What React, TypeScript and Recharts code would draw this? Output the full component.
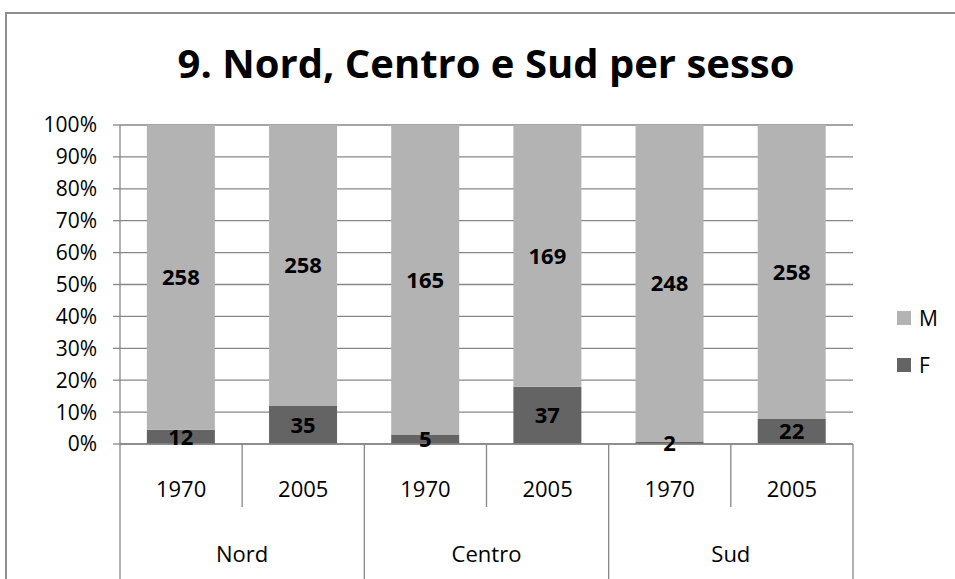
import { BarChart, Bar, XAxis, YAxis, CartesianGrid, Legend, LabelList } from 'recharts';

// values (counts; bars are stacked to 100%)
const REGIONS = ['Nord', 'Centro', 'Sud'];
const YEARS = ['1970', '2005'];
const F_VALUES = [12, 35, 5, 37, 2, 22];
const M_VALUES = [258, 258, 165, 169, 248, 258];
const Y_TICKS = [0, 0.1, 0.2, 0.3, 0.4, 0.5, 0.6, 0.7, 0.8, 0.9, 1];

const data = F_VALUES.map((f, i) => ({
  key: `${REGIONS[Math.floor(i / YEARS.length)]} ${YEARS[i % YEARS.length]}`,
  region: REGIONS[Math.floor(i / YEARS.length)],
  year: YEARS[i % YEARS.length],
  F: f,
  M: M_VALUES[i],
}));

const W = 955;
const H = 579;
const AXIS_W = 120;
const RIGHT = 102;
const TOP = 125;
const X_AXIS_H = 135;
const BAND = (W - AXIS_W - RIGHT) / data.length;

const GRID = '#878787';
const M_COLOR = '#b3b3b3';
const F_COLOR = '#646464';
const FONT = '"Open Sans", sans-serif';

const LEGEND_ITEMS = [
  { name: 'M', color: M_COLOR },
  { name: 'F', color: F_COLOR },
];

function CategoryTick({ x, y, index }: any) {
  const row = data[index];
  const half = BAND / 2;
  const lastOfRegion = index % YEARS.length === YEARS.length - 1;
  return (
    <g>
      <text x={x} y={y + 44} textAnchor="middle" dominantBaseline="central"
        fontSize={22} fontFamily={FONT} fill="#000">{row.year}</text>
      <line x1={x + half} y1={y} x2={x + half} y2={lastOfRegion ? y + X_AXIS_H : y + 63}
        stroke={GRID} strokeWidth={1.3} />
      {index === 0 && (
        <line x1={x - half} y1={y} x2={x - half} y2={y + X_AXIS_H} stroke={GRID} strokeWidth={1.3} />
      )}
      {index % YEARS.length === 0 && (
        <text x={x + half} y={y + 109} textAnchor="middle" dominantBaseline="central"
          fontSize={22} fontFamily={FONT} fill="#000">{row.region}</text>
      )}
    </g>
  );
}

function SideLegend() {
  return (
    <div style={{ fontFamily: FONT }}>
      {LEGEND_ITEMS.map((it) => (
        <div key={it.name} style={{ display: 'flex', alignItems: 'center', height: 47 }}>
          <span style={{ width: 14, height: 14, background: it.color, marginRight: 8 }} />
          <span style={{ fontSize: 21, color: '#000' }}>{it.name}</span>
        </div>
      ))}
    </div>
  );
}

export default function App() {
  return (
    <div style={{ position: 'absolute', left: 0, top: 0, width: W, height: H, overflow: 'hidden', background: '#fff' }}>
      <div style={{
        position: 'absolute', left: 5, top: 12, width: 1000, height: 700,
        border: '2px solid #8e8e8e', boxSizing: 'border-box',
      }} />
      <div style={{
        position: 'absolute', left: 86, top: 37, width: 800, textAlign: 'center',
        fontFamily: FONT, fontWeight: 700, fontSize: 40, lineHeight: '52px', color: '#000',
      }}>
        9. Nord, Centro e Sud per sesso
      </div>
      <div style={{ position: 'absolute', left: 0, top: 0 }}>
        <BarChart width={W} height={H} data={data} stackOffset="expand"
          barCategoryGap="22%" margin={{ top: TOP, right: RIGHT, left: 0, bottom: 0 }}>
          <CartesianGrid vertical={false} stroke={GRID} strokeWidth={1.3} />
          <XAxis dataKey="key" height={X_AXIS_H} interval={0} tickLine={false}
            tickSize={0} tickMargin={0} axisLine={{ stroke: GRID, strokeWidth: 1.3 }}
            tick={<CategoryTick />} />
          <YAxis width={AXIS_W} domain={[0, 1]} ticks={Y_TICKS} interval={0}
            tickFormatter={(v) => `${Math.round(v * 100)}%`}
            tickSize={7} tickMargin={16}
            tickLine={{ stroke: GRID, strokeWidth: 1.3 }} axisLine={{ stroke: GRID, strokeWidth: 1.3 }}
            tick={{ fontSize: 21, fontFamily: FONT, fill: '#000' }} />
          <Legend layout="vertical" align="center" verticalAlign="middle"
            wrapperStyle={{ left: 897, top: 294, width: 60 }} content={<SideLegend />} />
          <Bar dataKey="F" stackId="a" fill={F_COLOR} isAnimationActive={false}>
            <LabelList dataKey="F" position="center" fill="#000" fontSize={22}
              fontWeight={700} fontFamily={FONT} />
          </Bar>
          <Bar dataKey="M" stackId="a" fill={M_COLOR} isAnimationActive={false}>
            <LabelList dataKey="M" position="center" fill="#000" fontSize={22}
              fontWeight={700} fontFamily={FONT} />
          </Bar>
        </BarChart>
      </div>
    </div>
  );
}
